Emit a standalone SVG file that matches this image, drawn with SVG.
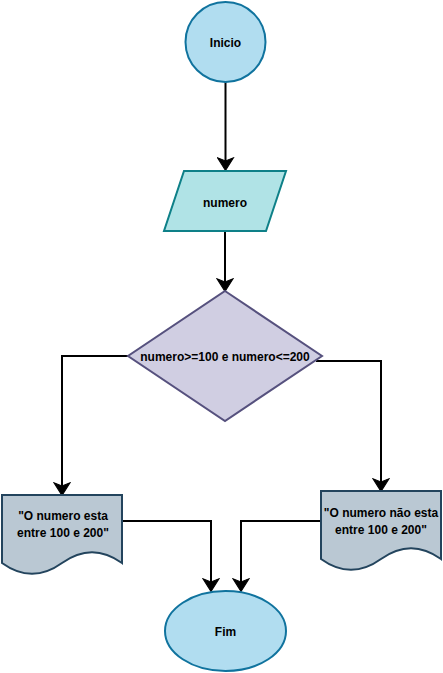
<svg xmlns="http://www.w3.org/2000/svg" width="443" height="673" viewBox="0 0 443 673">
<defs>
<style>
.lbl{font-family:"Liberation Sans",Arial,Helvetica,sans-serif;font-size:12px;font-weight:bold;fill:#000;text-anchor:middle}
.term{fill:#b1ddf0;stroke:#10739e;stroke-width:2}
.io{fill:#b0e3e6;stroke:#0e8088;stroke-width:2}
.dec{fill:#d0cee2;stroke:#56517e;stroke-width:2}
.doc{fill:#bac8d3;stroke:#23445d;stroke-width:2}
.edge{fill:none;stroke:#000;stroke-width:2;marker-end:url(#arr)}
</style>
<marker id="arr" markerUnits="userSpaceOnUse" markerWidth="16" markerHeight="18" viewBox="-1 -1 15 17" refX="3" refY="7.5" orient="auto">
<path d="M12,7.5 L0,0 L3,7.5 L0,15 Z" fill="#000" stroke="#000" stroke-width="1"/>
</marker>
</defs>
<g id="connectors">
<path class="edge" d="M225.5,82 L225.5,161"/>
<path class="edge" d="M225,231 L225,282"/>
<path class="edge" d="M130,356 L62,356 L62,486"/>
<path class="edge" d="M316,361 L381,361 L381,482"/>
<path class="edge" d="M122,521 L211,521 L211,582"/>
<path class="edge" d="M321,521 L241,521 L241,582"/>
</g>
<g id="inicio">
<circle class="term" cx="225.5" cy="42" r="40"/>
<text class="lbl" x="225.5" y="46.5">Inicio</text>
</g>
<g id="numero">
<polygon class="io" points="184,171 286,171 266,231 164,231"/>
<text class="lbl" x="225" y="206.5">numero</text>
</g>
<g id="decisao">
<polygon class="dec" points="225,291 322,356 225,421 128,356"/>
<text class="lbl" x="225" y="360.5">numero&gt;=100 e numero&lt;=200</text>
</g>
<g id="doc-sim">
<path class="doc" d="M2,495 L122,495 L122,563 Q92,541.4 62,563 Q32,584.6 2,563 Z"/>
<text class="lbl" x="63" y="520">"O numero esta</text>
<text class="lbl" x="63" y="536.5">entre 100 e 200"</text>
</g>
<g id="doc-nao">
<path class="doc" d="M321,491 L441,491 L441,559 Q411,537.4 381,559 Q351,580.6 321,559 Z"/>
<text class="lbl" x="381" y="517">"O numero não esta</text>
<text class="lbl" x="381" y="533.5">entre 100 e 200"</text>
</g>
<g id="fim">
<ellipse class="term" cx="225.5" cy="631" rx="60.5" ry="40"/>
<text class="lbl" x="225.5" y="635.5">Fim</text>
</g>
</svg>
